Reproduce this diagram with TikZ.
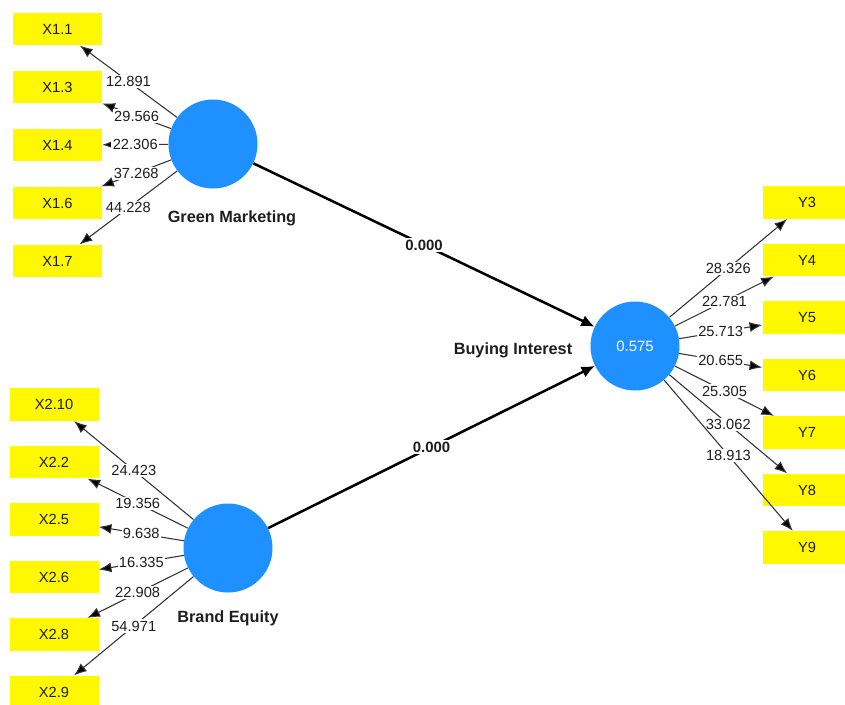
\documentclass[tikz,border=0pt]{standalone}
\usepackage{fontspec}
\setmainfont{Liberation Sans}
\usetikzlibrary{arrows.meta}
\definecolor{indyellow}{RGB}{255,248,0}
\definecolor{latblue}{RGB}{30,144,255}
\definecolor{txt}{RGB}{30,30,30}
\tikzset{
  ind/.style={fill=indyellow, minimum width=66.75pt, minimum height=24.5pt, inner sep=0pt, text=txt, font=\fontsize{11}{13}\selectfont},
  lat/.style={circle, fill=latblue, minimum size=66.75pt, inner sep=0pt, text=white, font=\fontsize{11.2}{13}\selectfont},
  latlbl/.style={text=txt, font=\fontsize{12.2}{14}\selectfont\bfseries},
  meas/.style={draw=black!80, line width=0.8pt, -{Latex[length=9.5pt,width=7.5pt,fill=black]}},
  struct/.style={draw=black, line width=1.9pt, -{Latex[length=10pt,width=9pt]}},
  lbl/.style={fill=white, inner sep=1pt, text=txt, font=\fontsize{11}{13}\selectfont},
  slbl/.style={fill=white, inner sep=1.5pt, text=txt, font=\fontsize{11.2}{13}\selectfont\bfseries},
}
\begin{document}
\begin{tikzpicture}[x=0.75pt, y=-0.75pt]
\useasboundingbox (0,0) rectangle (845,704);
% latent variables
\node[lat] (gm) at (213,144) {};
\node[lat] (be) at (228,548) {};
\node[lat] (bi) at (635,346) {0.575};
\node[latlbl] (gml) at (232,218) {Green Marketing};
\node[latlbl] (bel) at (228,618) {Brand Equity};
\node[latlbl] (bil) at (513,350) {Buying Interest};
% indicators left top
\node[ind] (x11) at (57.5,29) {X1.1};
\node[ind] (x13) at (57.5,87) {X1.3};
\node[ind] (x14) at (57.5,145) {X1.4};
\node[ind] (x16) at (57.5,203) {X1.6};
\node[ind] (x17) at (57.5,261) {X1.7};
% indicators left bottom
\node[ind] (x210) at (54,404.5) {X2.10};
\node[ind] (x22) at (54,462) {X2.2};
\node[ind] (x25) at (54,519.5) {X2.5};
\node[ind] (x26) at (54,577) {X2.6};
\node[ind] (x28) at (54,634.5) {X2.8};
\node[ind] (x29) at (54,692) {X2.9};
% indicators right
\node[ind] (y3) at (807,202.5) {Y3};
\node[ind] (y4) at (807,260) {Y4};
\node[ind] (y5) at (807,317.5) {Y5};
\node[ind] (y6) at (807,375) {Y6};
\node[ind] (y7) at (807,432.5) {Y7};
\node[ind] (y8) at (807,490) {Y8};
\node[ind] (y9) at (807,547.5) {Y9};
% measurement paths
\draw[meas] (gm) -- node[lbl]{12.891} (x11);
\draw[meas] (gm) -- node[lbl]{29.566} (x13);
\draw[meas] (gm) -- node[lbl]{22.306} (x14);
\draw[meas] (gm) -- node[lbl]{37.268} (x16);
\draw[meas] (gm) -- node[lbl]{44.228} (x17);
\draw[meas] (be) -- node[lbl]{24.423} (x210);
\draw[meas] (be) -- node[lbl]{19.356} (x22);
\draw[meas] (be) -- node[lbl]{9.638} (x25);
\draw[meas] (be) -- node[lbl]{16.335} (x26);
\draw[meas] (be) -- node[lbl]{22.908} (x28);
\draw[meas] (be) -- node[lbl]{54.971} (x29);
\draw[meas] (bi) -- node[lbl]{28.326} (y3);
\draw[meas] (bi) -- node[lbl]{22.781} (y4);
\draw[meas] (bi) -- node[lbl]{25.713} (y5);
\draw[meas] (bi) -- node[lbl]{20.655} (y6);
\draw[meas] (bi) -- node[lbl]{25.305} (y7);
\draw[meas] (bi) -- node[lbl]{33.062} (y8);
\draw[meas] (bi) -- node[lbl]{18.913} (y9);
% structural paths
\draw[struct] (gm) -- node[slbl]{0.000} (bi);
\draw[struct] (be) -- node[slbl]{0.000} (bi);
\end{tikzpicture}
\end{document}
